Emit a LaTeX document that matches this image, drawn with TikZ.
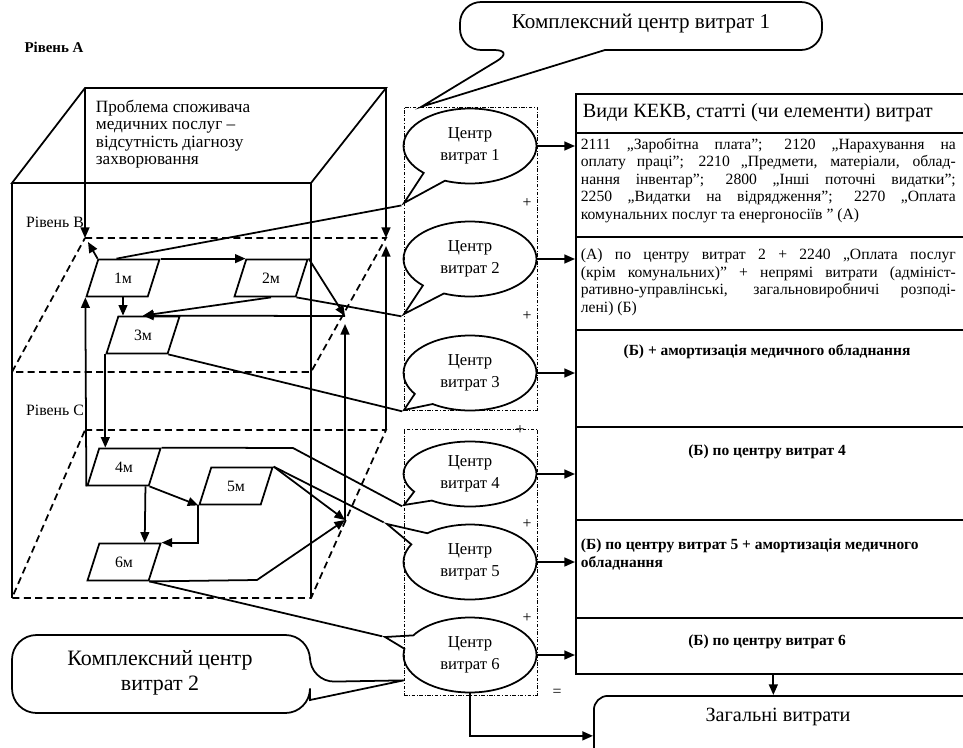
\documentclass[tikz,border=0pt]{standalone}
\usepackage{fontspec}
\setmainfont{Liberation Serif}
\usetikzlibrary{arrows.meta,shapes.geometric,shapes.callouts,calc,fit}

\begin{document}
\begin{tikzpicture}[x=0.02cm,y=-0.02cm,line width=1pt,
  every node/.style={inner sep=0pt},
  arr/.style={-{Triangle[length=6pt,width=5pt]}},
  dsh/.style={dash pattern=on 4pt off 2.5pt},
  lvl/.style={font=\fontsize{9}{10}\selectfont},
  mbox/.style={draw,trapezium,trapezium left angle=68,trapezium right angle=112,
    trapezium stretches=true,minimum width=1.46cm,minimum height=0.74cm,
    font=\fontsize{9}{10}\selectfont},
  centr/.style={draw,ellipse callout,callout pointer arc=22,minimum width=2.66cm,
    minimum height=1.5cm,align=center,font=\fontsize{9.5}{12.5}\selectfont},
  grp/.style={draw,line width=0.4pt,dash pattern=on 2pt off 1pt on 0.4pt off 1pt},
  rowtxt/.style={text width=7.5cm,align=justify,font=\fontsize{8.9}{10}\selectfont},
  rowb/.style={align=center,font=\bfseries\fontsize{8.8}{10}\selectfont},
  sgn/.style={font=\fontsize{9}{10}\selectfont}]
\useasboundingbox (0,0) rectangle (963,747);
\coordinate (bTL) at (85,88);
\coordinate (bTR) at (386,88);
\coordinate (fTL) at (12,183);
\coordinate (fTR) at (311,183);
\coordinate (pB1) at (85,238);
\coordinate (pB2) at (386,238);
\coordinate (pB3) at (12,372);
\coordinate (pB4) at (311,372);
\coordinate (pC1) at (85,430);
\coordinate (pC2) at (386,430);
\coordinate (pC3) at (12,598);
\coordinate (pC4) at (311,598);
\draw (fTL) -- (bTL) -- (bTR) -- (fTR) -- cycle;
\draw (fTL) -- (pC3);
\draw (fTR) -- (pC4);
\draw[arr] (bTL) -- (pB1);
\draw[arr] (bTR) -- (pB2);
\draw[dsh] (pB1) -- (pB2) -- (pB4) -- (pB3) -- cycle;
\draw[dsh] (pC1) -- (pC2) -- (pC4) -- (pC3) -- cycle;
\draw[arr] (pC2) -- ($(pB2)+(0,8)$);

\node[font=\bfseries\fontsize{8.5}{10}\selectfont] (lvlA) at (54,47) {Рівень А};
\node[lvl] (lvlB) at (55,222) {Рівень В};
\node[lvl] (lvlC) at (55,410) {Рівень С};
\node[anchor=north west,align=left,font=\fontsize{9.8}{10}\selectfont] (probl) at (95,99)
  {Проблема споживача\\медичних послуг –\\відсутність діагнозу\\захворювання};

\node[mbox] (m1) at (123,278) {1м};
\node[mbox] (m2) at (271,278) {2м};
\node[mbox] (m3) at (143,335) {3м};
\node[mbox] (m4) at (124,467) {4м};
\node[mbox] (m5) at (236,486) {5м};
\node[mbox] (m6) at (124,562) {6м};
\coordinate (J1) at (345,316);
\coordinate (J2) at (345,520);
\coordinate (k2) at (345,306);
\coordinate (k4) at (293,448);
\coordinate (k6) at (257,580);

\draw[arr] (m1.top left corner) -- ($(pB1)+(3,4)$);
\draw[arr] (m1.top right corner) -- (m2.top left corner);
\draw[arr] (m1.south) -- (m1.south |- m3.north);
\draw[arr] (m2.top right corner) -- (J1);
\draw[arr] (J1) -- (m3.north);
\draw[arr] (m2.south) -- (m3.north);
\draw[arr] (m3.bottom left corner) -- (m3.bottom left corner |- m4.north);
\draw[arr] (m4.bottom left corner) -- (m1.bottom left corner);
\draw[arr] (m4.bottom right corner) -- (m5.bottom left corner);
\draw[arr] ($(m4.bottom right corner)+(-4,0)$) -- ($(m6.top right corner)+(-17,0)$);
\draw[arr] (m5.bottom left corner) |- (m6.top right corner);
\draw[arr] (m5.top right corner) -- (J2);
\draw[arr] (m6.bottom right corner) -- (k6) -- (J2);
\draw[arr] (J2) -- ($(J1)+(0,8)$);

\node[centr,callout absolute pointer={(404,203)}] (cv1) at (470,146) {Центр\\витрат 1};
\node[centr,callout absolute pointer={(404,314)}] (cv2) at (470,259) {Центр\\витрат 2};
\node[centr,callout absolute pointer={(404,410)}] (cv3) at (470,373) {Центр\\витрат 3};
\node[centr,minimum height=1.3cm,callout absolute pointer={(404,505)}] (cv4) at (470,474) {Центр\\витрат 4};
\node[centr,callout absolute pointer={(387,524)}] (cv5) at (470,562) {Центр\\витрат 5};
\node[centr,callout absolute pointer={(385,637)}] (cv6) at (470,655) {Центр\\витрат 6};
\node[grp,fit={(404,107) (537,410)}] (grp1) {};
\node[grp,fit={(404,429) (537,695)}] (grp2) {};

\draw (cv1.pointer) -- ($(m1.top left corner)!0.3!(m1.top right corner)$);
\draw (cv2.pointer) -- (k2) -- (m2.bottom right corner);
\draw (cv3.pointer) -- (m3.bottom right corner);
\draw (cv4.pointer) -- (k4) -- (m4.top right corner);
\draw (cv5.pointer) -- (m5.top right corner);
\draw (cv6.pointer) -- (m6.bottom right corner);

\node[sgn] (p1) at (527,203) {+};
\node[sgn] (p2) at (527,316) {+};
\node[sgn] (p3) at (520,430) {+};
\node[sgn] (p4) at (527,524) {+};
\node[sgn] (p5) at (527,618) {+};
\node[sgn] (eq) at (557,693) {=};

\coordinate (tip1) at ($(grp1.north west)+(18,0)$);
\draw (515,50) -- (tip1) -- (605,50) [rounded corners=12] -- (822,50) -- (822,2) -- (460,2) -- (460,50) -- cycle;
\node[font=\fontsize{12}{14}\selectfont] (kc1) at (641,24) {Комплексний центр витрат 1};
\coordinate (tip2) at ($(grp2.south west)+(0,-15)$);
\draw (310,682) -- (tip2) -- (310,700) [rounded corners=14] -- (310,713) -- (12,713) -- (12,635) -- (310,635) -- cycle;
\node[align=center,font=\fontsize{12.5}{14.2}\selectfont] (kc2) at (160,673) {Комплексний центр\\витрат 2};

\node[draw,minimum width=7.9cm,minimum height=11.6cm,anchor=north west] (kekv) at (575,93) {};
\foreach \yy in {133,237,330,427,520,618}
  \draw (575,\yy) -- (970,\yy);
\node[anchor=west,font=\fontsize{11.5}{13}\selectfont] (ttl) at (582,113) {Види КЕКВ, статті (чи елементи) витрат};
\node[rowtxt,anchor=north west] (row1) at (580,137) {2111 „Заробітна плата"; 2120 „Нарахування на\linebreak
  оплату праці"; 2210 „Предмети, матеріали, облад-\linebreak
  нання інвентар"; 2800 „Інші поточні видатки";\linebreak
  2250 „Видатки на відрядження"; 2270 „Оплата\linebreak
  комунальних послуг та енергоносіїв " (А)};
\node[rowtxt,anchor=north west] (row2) at (580,248) {(А) по центру витрат 2 + 2240 „Оплата послуг\linebreak
  (крім комунальних)" + непрямі витрати (адмініст-\linebreak
  ративно-управлінські, загальновиробничі розподі-\linebreak
  лені) (Б)};
\node[rowb,anchor=north] (row3) at (767,344) {(Б) + амортизація медичного обладнання};
\node[rowb,anchor=north] (row4) at (767,444) {(Б) по центру витрат 4};
\node[rowb,anchor=north west,align=left] (row5) at (580,538) {(Б) по центру витрат 5 + амортизація медичного\\обладнання};
\node[rowb,anchor=north] (row6) at (767,634) {(Б) по центру витрат 6};

\node[draw,rounded corners=8,minimum width=8cm,minimum height=1.6cm,anchor=north west] (total) at (593,695) {};
\node[font=\fontsize{11.5}{13}\selectfont] (totxt) at (778,717) {Загальні витрати};
\draw[arr] (kekv.south) -- (kekv.south |- total.north);
\draw[arr] (cv6.south) |- (total.west);
\foreach \c in {cv1,cv2,cv3,cv4,cv5,cv6}
  \draw[arr] (\c.east) -- (\c.east -| kekv.west);
\end{tikzpicture}
\end{document}
